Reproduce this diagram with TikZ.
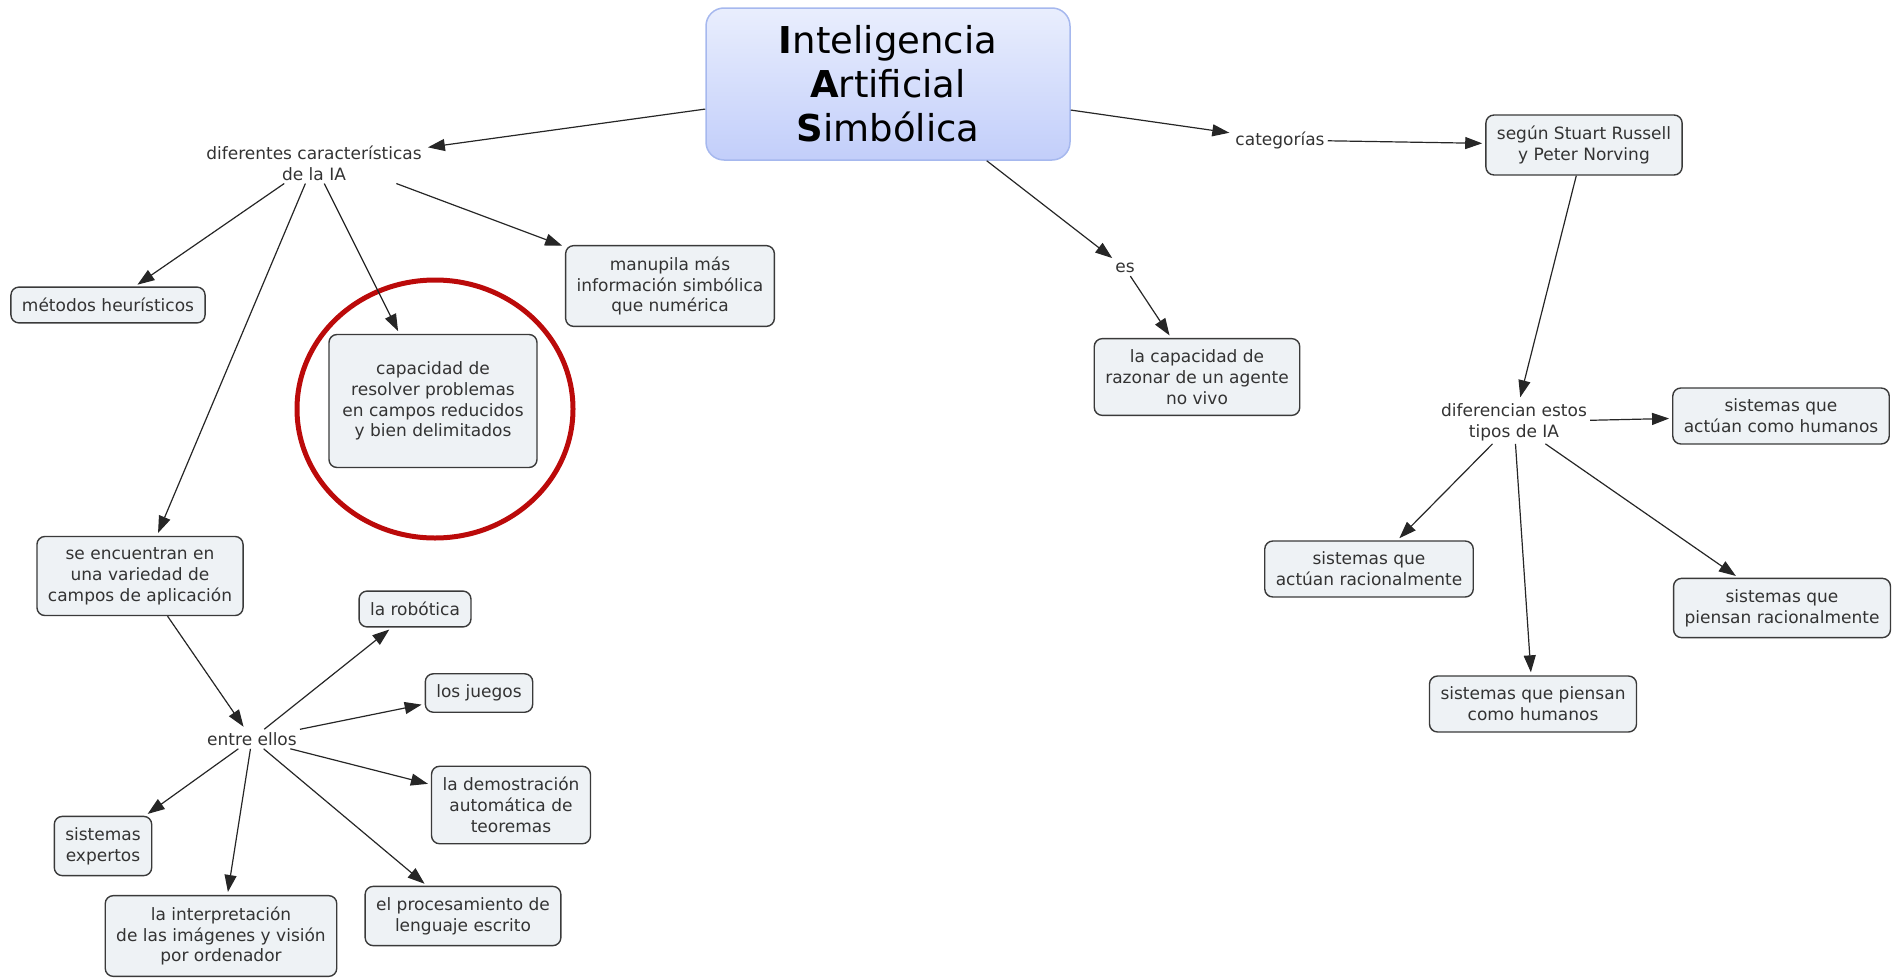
\documentclass[tikz,border=0pt]{standalone}
\usepackage{fontspec}
\setmainfont{DejaVu Sans}
\usetikzlibrary{arrows.meta}
\definecolor{boxfill}{HTML}{EEF2F5}
\definecolor{boxline}{HTML}{3A3A3A}
\definecolor{txt}{HTML}{333333}
\definecolor{titletop}{HTML}{E9EEFD}
\definecolor{titlebot}{HTML}{C2CEFA}
\definecolor{titleline}{HTML}{A6B8EE}
\definecolor{markred}{HTML}{BB0A0A}
\tikzset{
  concept/.style={draw=boxline, fill=boxfill, rounded corners=8pt, line width=1.4pt,
    text=txt, align=center, font=\fontsize{17}{20.8}\selectfont,
    inner xsep=11pt, inner ysep=11pt},
  phrase/.style={text=txt, align=center, font=\fontsize{17}{20.8}\selectfont, inner sep=3pt},
  link/.style={->, line width=1.2pt, draw=black!85, shorten >=3pt},
}
\begin{document}
\begin{tikzpicture}[x=1pt, y=-1pt, >={Triangle[length=17pt,width=12pt]}]
  \useasboundingbox (0,0) rectangle (1892,977);
  % main concept
  \node[draw=titleline, top color=titletop, bottom color=titlebot, rounded corners=18pt,
    line width=1.5pt, minimum width=364pt, minimum height=152pt, align=center,
    font=\fontsize{37}{44}\selectfont] (ias) at (888,84)
    {\textbf{I}nteligencia\\\textbf{A}rtificial\\\textbf{S}imbólica};
  % linking phrases
  \node[phrase] (dif) at (314,163) {diferentes características\\de la IA};
  \node[phrase] (cat) at (1280,140) {categorías};
  \node[phrase] (es) at (1125,268) {es};
  \node[phrase] (tipos) at (1514,422) {diferencian estos\\tipos de IA};
  \node[phrase] (entre) at (252,739) {entre ellos};
  % left branch
  \node[concept] (heur) at (108,305) {métodos heurísticos};
  \node[concept, minimum width=208pt, minimum height=133pt] (capac) at (433,401)
    {capacidad de\\resolver problemas\\en campos reducidos\\y bien delimitados};
  \node[concept] (simb) at (670,286) {manupila más\\información simbólica\\que numérica};
  \node[concept] (campos) at (140,576) {se encuentran en\\una variedad de\\campos de aplicación};
  % fields of application
  \node[concept] (robot) at (415,609) {la robótica};
  \node[concept] (juegos) at (479,693) {los juegos};
  \node[concept] (teor) at (511,805) {la demostración\\automática de\\teoremas};
  \node[concept] (expert) at (103,846) {sistemas\\expertos};
  \node[concept] (vision) at (221,936) {la interpretación\\de las imágenes y visión\\por ordenador};
  \node[concept] (lengua) at (463,916) {el procesamiento de\\lenguaje escrito};
  % middle branch
  \node[concept] (razon) at (1197,377) {la capacidad de\\razonar de un agente\\no vivo};
  % right branch
  \node[concept] (russ) at (1584,145) {según Stuart Russell\\y Peter Norving};
  \node[concept] (achum) at (1781,416) {sistemas que\\actúan como humanos};
  \node[concept] (acrac) at (1369,569) {sistemas que\\actúan racionalmente};
  \node[concept] (pirac) at (1782,608) {sistemas que\\piensan racionalmente};
  \node[concept] (pihum) at (1533,704) {sistemas que piensan\\como humanos};
  % highlight
  \draw[markred, line width=5pt] (435,409) ellipse [x radius=138pt, y radius=129pt];
  % connectors
  \draw[link] (ias) -- (dif);
  \draw[link] (dif) -- (heur);
  \draw[link] (dif) -- (campos);
  \draw[link] (dif) -- (capac);
  \draw[link] (dif.-14) -- (simb);
  \draw[link] (ias) -- (es);
  \draw[link] (es) -- (razon);
  \draw[link] (ias) -- (cat);
  \draw[link] (cat) -- (russ);
  \draw[link] (russ) -- (tipos);
  \draw[link] (tipos) -- (achum);
  \draw[link] (tipos) -- (acrac);
  \draw[link] (tipos) -- (pihum);
  \draw[link] (tipos) -- (pirac);
  \draw[link] (campos) -- (entre);
  \draw[link] (entre) -- (robot);
  \draw[link] (entre) -- (juegos);
  \draw[link] (entre) -- (teor);
  \draw[link] (entre) -- (lengua);
  \draw[link] (entre) -- (vision);
  \draw[link] (entre) -- (expert);
\end{tikzpicture}
\end{document}
